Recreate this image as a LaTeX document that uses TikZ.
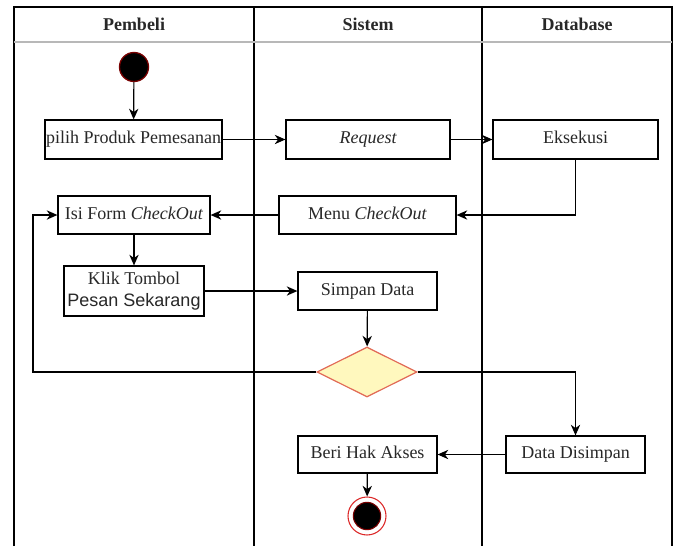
\documentclass[tikz,border=0pt]{standalone}
\usepackage{fontspec}
\setmainfont{Liberation Serif}
\newfontfamily\arialf{Liberation Sans}
\usetikzlibrary{shapes.geometric,arrows.meta}
\definecolor{dred}{RGB}{120,0,0}
\definecolor{ringred}{RGB}{220,40,40}
\definecolor{dfill}{RGB}{255,248,190}
\definecolor{ddraw}{RGB}{225,105,85}
\definecolor{txt}{RGB}{40,40,40}
\tikzset{
  box/.style={draw=black,line width=0.9pt,fill=white,inner sep=0pt,text=txt,font=\fontsize{13.5}{17}\selectfont,align=center},
  oneline/.style={text height=9.3pt,text depth=2.9pt},
  lane/.style={line width=0.9pt,draw=black},
  flow/.style={line width=0.9pt,-{Stealth[length=8pt,width=7pt,inset=2.5pt]}},
  head/.style={font=\fontsize{13.5}{16}\selectfont\bfseries,text=txt}
}
\begin{document}
\begin{tikzpicture}[x=0.75pt,y=-0.75pt]
\useasboundingbox (0,0) rectangle (680,546);
% swimlanes
\draw[lane] (14,546) -- (14,7) -- (672,7) -- (672,546);
\draw[lane] (254,7) -- (254,546);
\draw[lane] (482,7) -- (482,546);
\draw[line width=0.9pt,draw=black!28] (14,42) -- (672,42);
\node[head] (h1) at (134,24) {Pembeli};
\node[head] (h2) at (368,24) {Sistem};
\node[head] (h3) at (577,24) {Database};
% nodes
\node[circle,fill=black,draw=dred,line width=1pt,minimum size=21.75pt,inner sep=0pt] (start) at (134,67) {};
\node[box,oneline,minimum width=132.75pt,minimum height=29.25pt] (pilih) at (133.5,139.5) {pilih Produk Pemesanan};
\node[box,oneline,minimum width=123pt,minimum height=29.25pt] (request) at (368,139.5) {\itshape Request};
\node[box,oneline,minimum width=123.75pt,minimum height=29.25pt] (eksekusi) at (575.5,139.5) {Eksekusi};
\node[box,oneline,minimum width=114pt,minimum height=28.5pt] (isi) at (134,215) {Isi Form \textit{CheckOut}};
\node[box,oneline,minimum width=132.75pt,minimum height=28.5pt] (menu) at (367.5,215) {Menu \textit{CheckOut}};
\node[box,minimum width=105pt,minimum height=37.5pt] (klik) at (134,291) {Klik Tombol\\{\arialf Pesan Sekarang}};
\node[box,oneline,minimum width=104.25pt,minimum height=28.5pt] (simpan) at (367.5,291) {Simpan Data};
\node[diamond,draw=ddraw,fill=dfill,line width=0.9pt,minimum width=75pt,minimum height=37.5pt,inner sep=0pt] (dec) at (367,372) {};
\node[box,oneline,minimum width=104.25pt,minimum height=27.75pt] (data) at (575.5,454.5) {Data Disimpan};
\node[box,oneline,minimum width=104.25pt,minimum height=27.75pt] (beri) at (367.5,454.5) {Beri Hak Akses};
\node[circle,draw=ringred,fill=white,line width=0.8pt,minimum size=28.5pt,inner sep=0pt] (end) at (367,516) {};
\node[circle,fill=black,draw=dred,line width=0.8pt,minimum size=20.5pt,inner sep=0pt] (endin) at (end.center) {};
\coordinate (loopc) at (33,372);
% connectors
\draw[flow] (start) -- (pilih);
\draw[flow] (pilih) -- (request);
\draw[flow] (request) -- (eksekusi);
\draw[flow] (eksekusi.south) |- (menu.east);
\draw[flow] (menu) -- (isi);
\draw[flow] (isi) -- (klik);
\draw[flow] (klik.east |- simpan.west) -- (simpan.west);
\draw[flow] (simpan) -- (dec);
\draw[flow] (dec.west) -- (loopc) |- (isi.west);
\draw[flow] (dec.east) -| (data.north);
\draw[flow] (data) -- (beri);
\draw[flow] (beri) -- (end);
\end{tikzpicture}
\end{document}
